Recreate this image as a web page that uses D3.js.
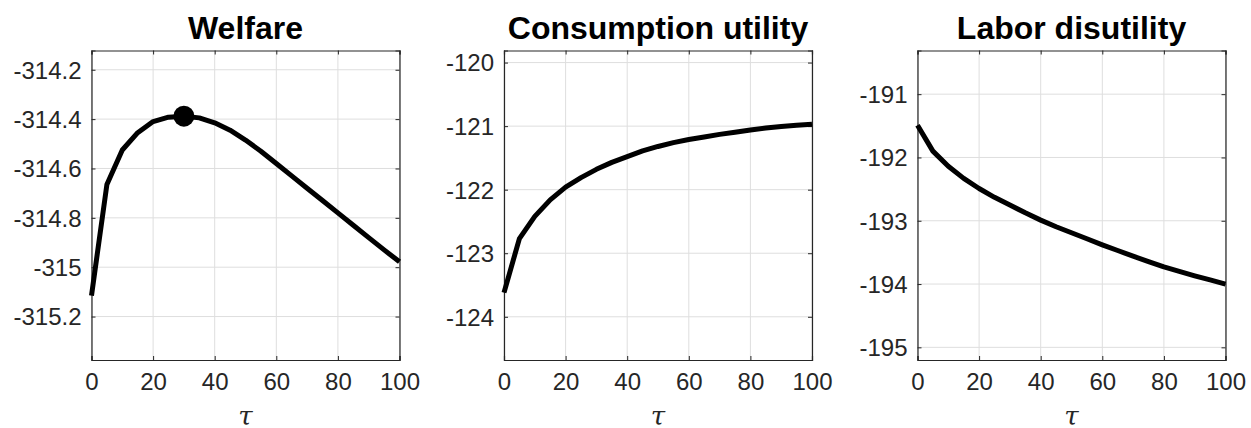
<!DOCTYPE html>
<html lang="en">
  <head>
    <meta charset="UTF-8" />
    <title>Welfare decomposition</title>
    <script src="https://d3js.org/d3.v7.min.js"></script>
    <style>
      body { margin: 0; background: #fff; }
      text { font-family: "Liberation Sans", Arial, sans-serif; }
    </style>
  </head>
  <body>
    <svg id="chart" width="1251" height="428"></svg>

    <script>
      // Data
      const tau = [0, 5, 10, 15, 20, 25, 30, 35, 40, 45, 50, 55, 60, 65, 70, 75, 80, 85, 90, 95, 100];
      const welfare = [-315.115, -314.665, -314.525, -314.455, -314.41, -314.392, -314.388, -314.395,
        -314.415, -314.445, -314.485, -314.53, -314.58, -314.63, -314.68, -314.73, -314.78,
        -314.83, -314.88, -314.93, -314.978];
      const consumption = [-123.62, -122.77, -122.42, -122.16, -121.96, -121.81, -121.68, -121.57,
        -121.48, -121.39, -121.32, -121.26, -121.21, -121.17, -121.13, -121.095, -121.06,
        -121.03, -121.005, -120.985, -120.97];
      const labor = [-191.49, -191.9, -192.14, -192.33, -192.49, -192.63, -192.75, -192.875,
        -192.99, -193.095, -193.19, -193.285, -193.38, -193.47, -193.56, -193.645, -193.73,
        -193.8, -193.87, -193.935, -194.0];
      const optimumTau = 30;

      const xTicks = [0, 20, 40, 60, 80, 100];
      const welfareTicks = [-314.2, -314.4, -314.6, -314.8, -315, -315.2];
      const consumptionTicks = [-120, -121, -122, -123, -124];
      const laborTicks = [-191, -192, -193, -194, -195];

      const panels = [
        { title: "Welfare", values: welfare, ticks: welfareTicks, domain: [-315.376, -314.122], left: 91.5, marker: true },
        { title: "Consumption utility", values: consumption, ticks: consumptionTicks, domain: [-124.68, -119.81], left: 504 },
        { title: "Labor disutility", values: labor, ticks: laborTicks, domain: [-195.2, -190.31], left: 917.5 },
      ];

      const plotW = 308, plotTop = 50.5, plotBottom = 360;
      const ink = "#262626";
      const svg = d3.select("#chart");

      panels.forEach((p) => {
        const x = d3.scaleLinear().domain([0, 100]).range([p.left, p.left + plotW]);
        const y = d3.scaleLinear().domain(p.domain).range([plotBottom, plotTop]);
        const g = svg.append("g");

        // grid
        g.selectAll(".vgrid").data(xTicks).enter().append("line")
          .attr("x1", (d) => x(d)).attr("x2", (d) => x(d))
          .attr("y1", plotTop).attr("y2", plotBottom)
          .attr("stroke", "#dedede").attr("stroke-width", 1);
        g.selectAll(".hgrid").data(p.ticks).enter().append("line")
          .attr("x1", p.left).attr("x2", p.left + plotW)
          .attr("y1", (d) => y(d)).attr("y2", (d) => y(d))
          .attr("stroke", "#dedede").attr("stroke-width", 1);

        // axes, ticks inside on all four sides
        const fmt = (d) => String(d);
        const axB = g.append("g").attr("transform", `translate(0,${plotBottom})`)
          .call(d3.axisBottom(x).tickValues(xTicks).tickSize(-4).tickPadding(10).tickFormat(fmt));
        const axT = g.append("g").attr("transform", `translate(0,${plotTop})`)
          .call(d3.axisTop(x).tickValues(xTicks).tickSize(-4).tickFormat(""));
        const axL = g.append("g").attr("transform", `translate(${p.left},0)`)
          .call(d3.axisLeft(y).tickValues(p.ticks).tickSize(-4).tickPadding(10).tickFormat(fmt));
        const axR = g.append("g").attr("transform", `translate(${p.left + plotW},0)`)
          .call(d3.axisRight(y).tickValues(p.ticks).tickSize(-4).tickFormat(""));
        [axB, axT, axL, axR].forEach((a) => {
          a.select(".domain").attr("stroke", ink).attr("stroke-width", 1.2);
          a.selectAll(".tick line").attr("stroke", ink);
          a.selectAll(".tick text").attr("fill", ink).style("font-size", "24px")
            .style("font-family", '"Liberation Sans", Arial, sans-serif');
        });
        axB.selectAll(".tick text").attr("dy", "0.85em");
        axL.selectAll(".tick text").attr("dy", "0.35em");

        // curve
        const line = d3.line().x((d, i) => x(tau[i])).y((d) => y(d));
        g.append("path").datum(p.values)
          .attr("d", line)
          .attr("fill", "none")
          .attr("stroke", "#000")
          .attr("stroke-width", 5)
          .attr("stroke-linejoin", "round");

        if (p.marker) {
          const i = tau.indexOf(optimumTau);
          g.append("circle")
            .attr("cx", x(tau[i])).attr("cy", y(p.values[i]))
            .attr("r", 10.5).attr("fill", "#000");
        }

        // title and x label
        g.append("text")
          .attr("x", p.left + plotW / 2).attr("y", 39)
          .attr("text-anchor", "middle")
          .style("font-size", "32px").style("font-weight", "bold")
          .attr("fill", "#000")
          .text(p.title);
        g.append("text")
          .attr("x", p.left + plotW / 2).attr("y", 425)
          .attr("text-anchor", "middle")
          .style("font-size", "26px").style("font-style", "italic")
          .style("font-family", '"DejaVu Serif", serif')
          .attr("fill", ink)
          .text("τ");
      });
    </script>
  </body>
</html>
